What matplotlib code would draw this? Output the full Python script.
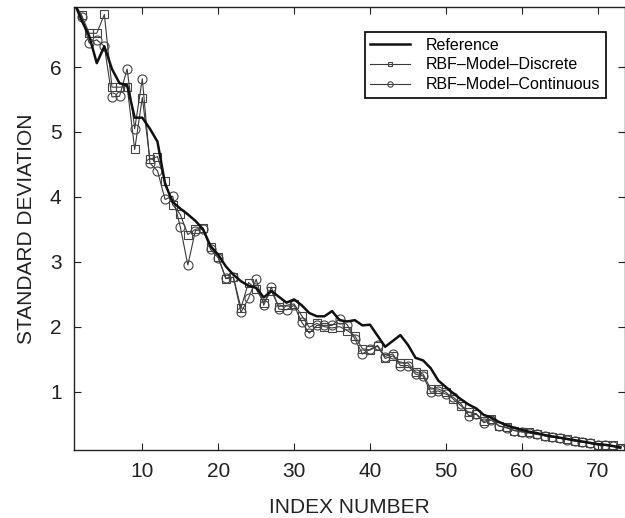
import matplotlib
matplotlib.use("Agg")
import matplotlib.pyplot as plt
import numpy as np

plt.rcParams['font.family'] = ['Liberation Sans', 'DejaVu Sans']

index = list(range(1, 74))

reference = [7.00, 6.72, 6.48, 6.06, 6.32, 5.97, 5.75, 5.72, 5.22, 5.22,
             5.05, 4.85, 4.20, 3.92, 3.82, 3.73, 3.63, 3.50, 3.24, 3.11,
             2.93, 2.80, 2.70, 2.63, 2.60, 2.45, 2.55, 2.46, 2.37, 2.42,
             2.33, 2.21, 2.16, 2.16, 2.24, 2.10, 2.08, 2.10, 2.02, 2.03,
             1.86, 1.69, 1.78, 1.87, 1.72, 1.52, 1.48, 1.36, 1.17, 1.07,
             0.97, 0.88, 0.80, 0.74, 0.64, 0.60, 0.53, 0.48, 0.44, 0.41,
             0.38, 0.36, 0.33, 0.31, 0.29, 0.27, 0.25, 0.23, 0.21, 0.19,
             0.18, 0.16, 0.14]

rbf_discrete = [7.00, 6.80, 6.52, 6.52, 6.81, 5.69, 5.69, 5.70, 4.73, 5.53,
                4.58, 4.62, 4.24, 3.88, 3.73, 3.42, 3.50, 3.52, 3.22, 3.08,
                2.74, 2.76, 2.29, 2.68, 2.58, 2.37, 2.55, 2.31, 2.33, 2.35,
                2.17, 1.99, 2.05, 2.00, 1.98, 2.00, 1.94, 1.86, 1.66, 1.64,
                1.70, 1.51, 1.55, 1.44, 1.44, 1.30, 1.27, 1.04, 1.04, 0.99,
                0.88, 0.78, 0.68, 0.66, 0.54, 0.58, 0.47, 0.45, 0.40, 0.38,
                0.37, 0.35, 0.32, 0.30, 0.28, 0.27, 0.24, 0.23, 0.20, 0.18,
                0.18, 0.17, 0.13]

rbf_continuous = [7.00, 6.77, 6.37, 6.42, 6.32, 5.54, 5.55, 5.97, 5.05, 5.82,
                  4.52, 4.40, 3.96, 4.01, 3.54, 2.95, 3.48, 3.50, 3.19, 3.06,
                  2.75, 2.76, 2.22, 2.44, 2.73, 2.33, 2.61, 2.27, 2.26, 2.33,
                  2.07, 1.90, 2.02, 2.02, 2.02, 2.12, 2.03, 1.81, 1.58, 1.65,
                  1.71, 1.54, 1.58, 1.40, 1.40, 1.27, 1.24, 0.99, 1.01, 0.96,
                  0.91, 0.81, 0.63, 0.65, 0.52, 0.56, 0.47, 0.44, 0.40, 0.38,
                  0.36, 0.34, 0.32, 0.30, 0.28, 0.26, 0.24, 0.22, 0.20, 0.18,
                  0.17, 0.16, 0.12]

xticks = [10, 20, 30, 40, 50, 60, 70]
yticks = [1, 2, 3, 4, 5, 6]

fig = plt.figure(figsize=(6.25, 5.18), dpi=100)
ax = fig.add_axes([0.1184, 0.1313, 0.8816, 0.8558])

ax.plot(index, reference, color='#111111', lw=1.8, label='Reference', zorder=3)
ax.plot(index, rbf_discrete, color='#3a3a3a', lw=0.8, marker='s', ms=5.5,
        mfc='none', mec='#444444', mew=0.8, label='RBF\u2013Model\u2013Discrete', zorder=2)
ax.plot(index, rbf_continuous, color='#3a3a3a', lw=0.8, marker='o', ms=6.5,
        mfc='none', mec='#444444', mew=0.8, label='RBF\u2013Model\u2013Continuous', zorder=2)

ax.set_xlim(1, 73.6)
ax.set_ylim(0.1, 6.93)
ax.set_xticks(xticks)
ax.set_yticks(yticks)
ax.tick_params(direction='in', length=5, width=0.8, top=True, right=True,
               labelsize=15, pad=9, colors='#222222')
for s in ax.spines.values():
    s.set_linewidth(1.0)
    s.set_color('#222222')

ax.set_xlabel('INDEX NUMBER', fontsize=15, color='#222222', labelpad=12)
ax.set_ylabel('STANDARD DEVIATION', fontsize=15, color='#222222', labelpad=10)

leg = ax.legend(loc='upper right', bbox_to_anchor=(0.9696, 0.9382),
                bbox_transform=fig.transFigure, fontsize=11.5, frameon=True,
                fancybox=False, edgecolor='black', framealpha=1,
                handlelength=2.5, handletextpad=1.0, borderpad=0.35,
                labelspacing=0.3, markerscale=0.6, borderaxespad=0)
leg.get_frame().set_linewidth(1.2)

fig.savefig('out.png', dpi=100)
